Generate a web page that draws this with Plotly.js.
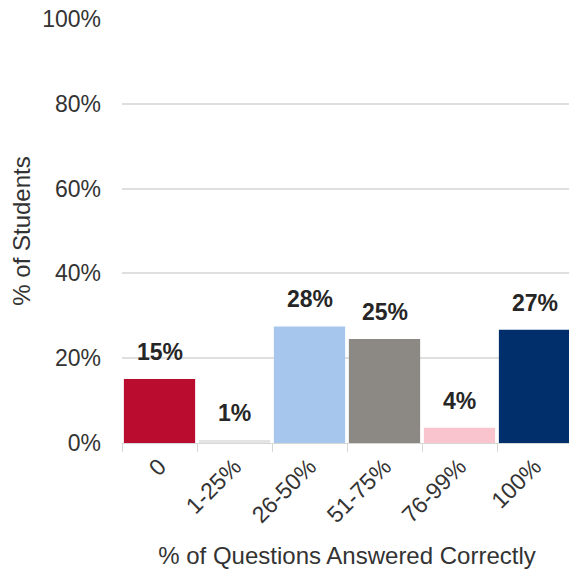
<!DOCTYPE html>
<html>
<head>
<meta charset="utf-8">
<script src="https://cdn.plot.ly/plotly-3.0.1.min.js"></script>
<style>html,body{margin:0;padding:0;overflow:hidden;background:#fff;}</style>
</head>
<body>
<div id="chart"></div>
<script>
const categories = ["0", "1-25%", "26-50%", "51-75%", "76-99%", "100%"];
const values = [15.1, 0.7, 27.5, 24.5, 3.6, 26.7];
const barColors = ["#BA0C2F", "#E4E4E4", "#A7C6ED", "#8C8985", "#FAC4CE", "#002F6C"];
const yTickVals = [0, 20, 40, 60, 80, 100];
const yTickText = ["0%", "20%", "40%", "60%", "80%", "100%"];

const font = "Arial, 'Liberation Sans', sans-serif";
const labels = values.map(v => Math.round(v) + "%");

const trace = {
  type: "bar",
  x: categories,
  y: values,
  marker: {color: barColors},
  hoverinfo: "none"
};

const annotations = categories.map((c, i) => ({
  x: c, y: values[i], xref: "x", yref: "y",
  text: "<b>" + labels[i] + "</b>",
  showarrow: false, yanchor: "bottom", yshift: 12,
  font: {family: font, size: 23, color: "#262626"}
}));

const layout = {
  width: 572, height: 571,
  margin: {l: 122, r: 0, t: 19, b: 128},
  paper_bgcolor: "#fff", plot_bgcolor: "#fff",
  showlegend: false,
  bargap: 0.05,
  font: {family: font, color: "#333"},
  xaxis: {
    type: "category",
    tickangle: -45,
    tickson: "boundaries",
    ticks: "outside", ticklen: 8, tickcolor: "#D5D8D5",
    showline: true, linecolor: "#D5D8D5",
    tickfont: {family: font, size: 23, color: "#333"},
    title: {text: "% of Questions Answered Correctly", font: {family: font, size: 24, color: "#333"}, standoff: 20}
  },
  yaxis: {
    range: [0, 100],
    tickvals: yTickVals, ticktext: yTickText,
    showgrid: true, gridcolor: "#DDE0DD", gridwidth: 2,
    zeroline: false, showline: false,
    ticklabelstandoff: 20,
    tickfont: {family: font, size: 23, color: "#333"},
    title: {text: "% of Students", font: {family: font, size: 24, color: "#333"}, standoff: 4}
  },
  annotations: annotations
};

Plotly.newPlot("chart", [trace], layout, {displayModeBar: false, staticPlot: true});
</script>
</body>
</html>
